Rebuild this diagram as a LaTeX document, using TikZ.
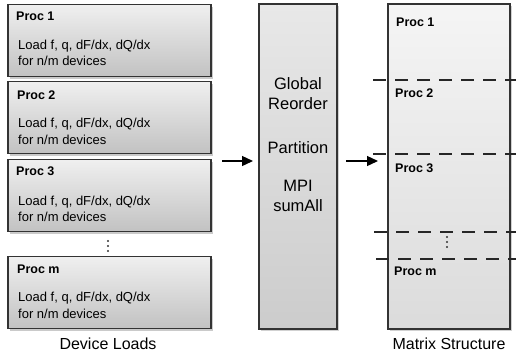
\documentclass[tikz,border=0pt]{standalone}
\usepackage{fontspec}
\setmainfont{Liberation Sans}
\usetikzlibrary{arrows.meta,shadows,calc}
\begin{document}
\begin{tikzpicture}[x=1pt,y=-1pt,
  loadbox/.style={draw=black!80, line width=1.3pt, rectangle, minimum width=203pt, minimum height=72pt,
    top color=black!6, bottom color=black!24, drop shadow={shadow xshift=2pt, shadow yshift=-2pt, opacity=0.35, fill=black!60}},
  midbox/.style={draw=black!80, line width=1.3pt, rectangle, minimum width=78pt, minimum height=325pt,
    top color=black!9, bottom color=black!20, drop shadow={shadow xshift=2pt, shadow yshift=-2pt, opacity=0.3, fill=black!60}},
  matbox/.style={draw=black!80, line width=1.3pt, rectangle, minimum width=122pt, minimum height=325pt,
    top color=black!4, bottom color=black!14, drop shadow={shadow xshift=2pt, shadow yshift=-2pt, opacity=0.3, fill=black!60}},
  proclbl/.style={anchor=west, inner sep=0pt, font=\fontsize{12.5}{14}\selectfont\bfseries},
  loadlbl/.style={anchor=west, inner sep=0pt, align=left, font=\fontsize{13}{16.5}\selectfont},
  caption/.style={inner sep=0pt, font=\fontsize{16}{19}\selectfont},
  midlbl/.style={inner sep=0pt, align=center, font=\fontsize{16.5}{20}\selectfont},
  sepline/.style={black!85, line width=1.3pt, dash pattern=on 13pt off 9pt},
  arr/.style={black, line width=1.3pt, -{Triangle[length=11pt,width=10pt]}},
  dot/.style={circle, fill=black!80, inner sep=0pt, minimum size=2.2pt}
]
\useasboundingbox (0,0) rectangle (516,354);

% left column
\node[loadbox] (p1) at (109.5,40.5) {};
\node[loadbox] (p2) at (109.5,117.5) {};
\node[loadbox] (p3) at (109.5,195.5) {};
\node[loadbox] (pm) at (109.5,292.5) {};

\node[proclbl] (p1t) at (16,16) {Proc 1};
\node[loadlbl] (p1l) at (18,53) {Load f, q, dF/dx, dQ/dx\\for n/m devices};
\node[proclbl] (p2t) at (17,95) {Proc 2};
\node[loadlbl] (p2l) at (18,131.5) {Load f, q, dF/dx, dQ/dx\\for n/m devices};
\node[proclbl] (p3t) at (16,171) {Proc 3};
\node[loadlbl] (p3l) at (18,209) {Load f, q, dF/dx, dQ/dx\\for n/m devices};
\node[proclbl] (pmt) at (17,269) {Proc m};
\node[loadlbl] (pml) at (18,305.5) {Load f, q, dF/dx, dQ/dx\\for n/m devices};

\node[dot] (ld1) at (108,241) {};
\node[dot] (ld2) at (108,246) {};
\node[dot] (ld3) at (108,251) {};

\node[caption] (cap1) at (108,344) {Device Loads};

% middle column
\node[midbox] (mid) at (298,166.5) {};
\node[midlbl] (g) at (298,94) {Global\\Reorder};
\node[midlbl] (pa) at (298,148) {Partition};
\node[midlbl] (mpi) at (298,196) {MPI\\sumAll};

% right column
\node[matbox] (mat) at (449,166.5) {};
\node[proclbl] (m1) at (396,22) {Proc 1};
\node[proclbl] (m2) at (395,93) {Proc 2};
\node[proclbl] (m3) at (395,168) {Proc 3};
\node[proclbl] (mm) at (394,271) {Proc m};
\node[dot] (rd1) at (447,237) {};
\node[dot] (rd2) at (447,242) {};
\node[dot] (rd3) at (447,247) {};

\coordinate (s1a) at (373,80);   \coordinate (s1b) at (516,80);
\coordinate (s2a) at (373,154);  \coordinate (s2b) at (516,154);
\coordinate (s3a) at (374,232);  \coordinate (s3b) at (516,232);
\coordinate (s4a) at (376,259);  \coordinate (s4b) at (516,259);
\draw[sepline] (s1a) -- (s1b);
\draw[sepline] (s2a) -- (s2b);
\draw[sepline] (s3a) -- (s3b);
\draw[sepline] (s4a) -- (s4b);

\node[caption] (cap2) at (449,344) {Matrix Structure};

% arrows
\coordinate (a1s) at (222,161);
\coordinate (a1e) at (253,161);
\coordinate (a2s) at (346,161);
\coordinate (a2e) at (378,161);
\draw[arr] (a1s) -- (a1e);
\draw[arr] (a2s) -- (a2e);
\end{tikzpicture}
\end{document}
